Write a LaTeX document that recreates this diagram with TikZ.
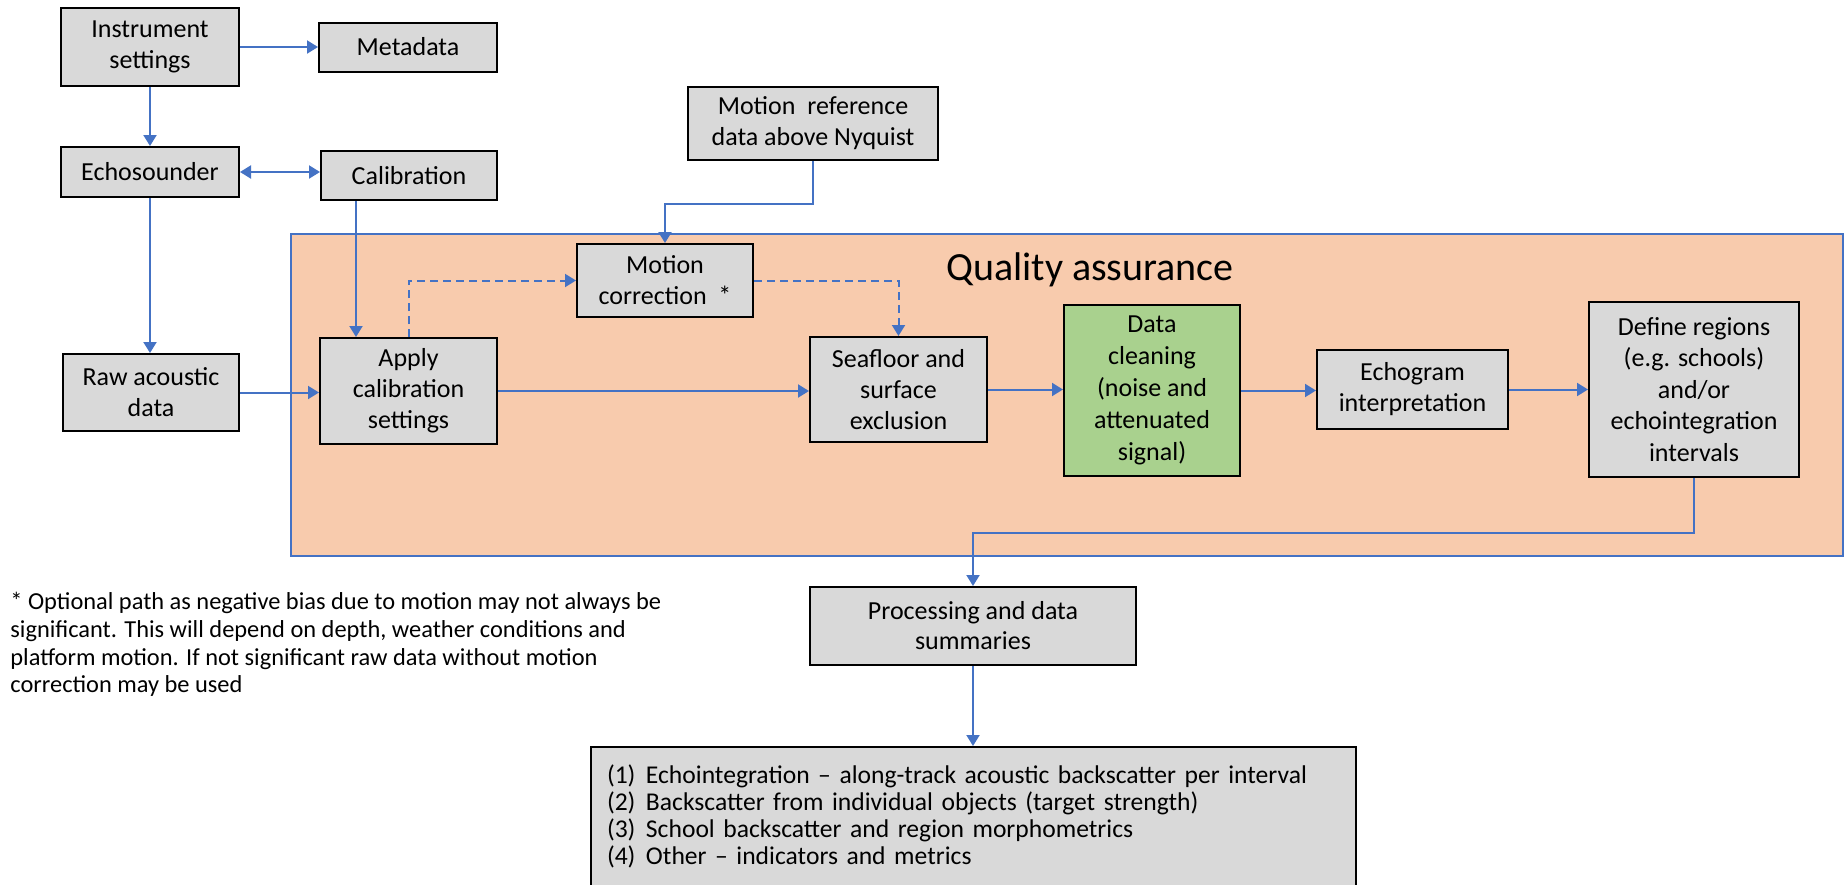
\documentclass[tikz,border=0pt]{standalone}
\usepackage{fontspec}
\setmainfont{Carlito}
\usetikzlibrary{arrows.meta,calc}
\definecolor{boxgray}{HTML}{D9D9D9}
\definecolor{boxgreen}{HTML}{A9D18E}
\definecolor{qafill}{HTML}{F8CBAD}
\definecolor{lineblue}{HTML}{4472C4}
\begin{document}
\begin{tikzpicture}[x=0.5pt,y=-0.5pt,
  box/.style={draw=black,line width=1pt,fill=boxgray,align=center,inner sep=2pt,
    font=\fontsize{13}{15.5}\selectfont},
  conn/.style={draw=lineblue,line width=1pt},
  arr/.style={conn,-{Triangle[length=5.5pt,width=6.5pt]}},
  darr/.style={arr,dash pattern=on 4pt off 2.5pt},
  biarr/.style={conn,{Triangle[length=5.5pt,width=6.5pt]}-{Triangle[length=5.5pt,width=6.5pt]}},
  qabox/.style={draw=lineblue,line width=1pt,fill=qafill}]
\useasboundingbox (0,0) rectangle (1848,884);
\fill[white] (0,0) rectangle (1848,884);
% Quality assurance frame
\draw[qabox] (291,234) rectangle (1843,556);
\node[font=\fontsize{20}{24}\selectfont,inner sep=0pt] (qatitle) at (1090,270) {Quality assurance};
% nodes
\node[box,minimum width=89pt,minimum height=39pt] (inst) at (150,47) {Instrument\\settings};
\node[box,minimum width=89pt,minimum height=24.5pt] (meta) at (408,47) {Metadata};
\node[box,minimum width=89pt,minimum height=25pt] (echo) at (150,172) {Echosounder};
\node[box,minimum width=88pt,minimum height=24.5pt] (cal) at (409,175.5) {Calibration};
\node[box,minimum width=88pt,minimum height=38.5pt] (raw) at (151,392.5) {Raw acoustic\\data};
\node[box,minimum width=88.5pt,minimum height=53pt] (apply) at (408.5,391) {Apply\\calibration\\settings};
\node[box,minimum width=125pt,minimum height=36.5pt] (mref) at (813,123.5) {Motion\ \ reference\\data above Nyquist};
\node[box,minimum width=88pt,minimum height=36.5pt] (mcor) at (665,280.5) {Motion\\correction\ \ *};
\node[box,minimum width=88.5pt,minimum height=52.5pt] (sea) at (898.5,389.5) {Seafloor and\\surface\\exclusion};
\node[box,fill=boxgreen,minimum width=88pt,minimum height=85.5pt,font=\fontsize{13}{16}\selectfont] (clean) at (1152,390.5) {Data\\cleaning\\(noise and\\attenuated\\signal)};
\node[box,minimum width=95.5pt,minimum height=39.5pt] (echog) at (1412.5,389.5) {Echogram\\interpretation};
\node[box,minimum width=105pt,minimum height=87.5pt,font=\fontsize{13}{15.75}\selectfont] (def) at (1694,389.5) {Define regions\\(e.g. schools)\\and/or\\echointegration\\intervals};
\node[box,minimum width=163pt,minimum height=39pt,font=\fontsize{13}{15}\selectfont] (proc) at (973,626) {Processing and data\\summaries};
\node[box,minimum height=69.5pt,text width=366.5pt,inner xsep=8pt,inner ysep=0pt,align=left,
  font=\fontsize{12.8}{13.5}\selectfont] (list) at (973.5,816.5)
  {\makebox[19.5pt][l]{(1)}Echointegration – along-track acoustic backscatter per interval\\
   \makebox[19.5pt][l]{(2)}Backscatter from individual objects (target strength)\\
   \makebox[19.5pt][l]{(3)}School backscatter and region morphometrics\\
   \makebox[19.5pt][l]{(4)}Other – indicators and metrics};
\node[anchor=north west,inner sep=0pt,align=left,font=\fontsize{12.2}{13.85}\selectfont] (note) at (10,592)
  {* Optional path as negative bias due to motion may not always be\\
   significant. This will depend on depth, weather conditions and\\
   platform motion. If not significant raw data without motion\\
   correction may be used};
% connectors
\draw[arr] (inst.east) -- (inst.east -| meta.west);
\draw[arr] (inst.south) -- (echo.north);
\draw[biarr] (echo.east) -- (echo.east -| cal.west);
\draw[arr] (echo.south) -- (echo.south |- raw.north);
\draw[arr] ([xshift=-26.5pt]cal.south) -- ([xshift=-26.5pt]cal.south |- apply.north);
\draw[arr] (raw.east) -- (raw.east -| apply.west);
\draw[darr] (apply.north) |- (mcor.west);
\draw[arr] (mref.south) -- ++(0,43) -| (mcor.north);
\draw[darr] (mcor.east) -| (sea.north);
\draw[arr] (apply.east) -- (apply.east -| sea.west);
\draw[arr] (sea.east) -- (sea.east -| clean.west);
\draw[arr] (clean.east) -- (clean.east -| echog.west);
\draw[arr] (echog.east) -- (echog.east -| def.west);
\draw[arr] (def.south) -- ++(0,55) -| (proc.north);
\draw[arr] (proc.south) -- (proc.south |- list.north);
\end{tikzpicture}
\end{document}
